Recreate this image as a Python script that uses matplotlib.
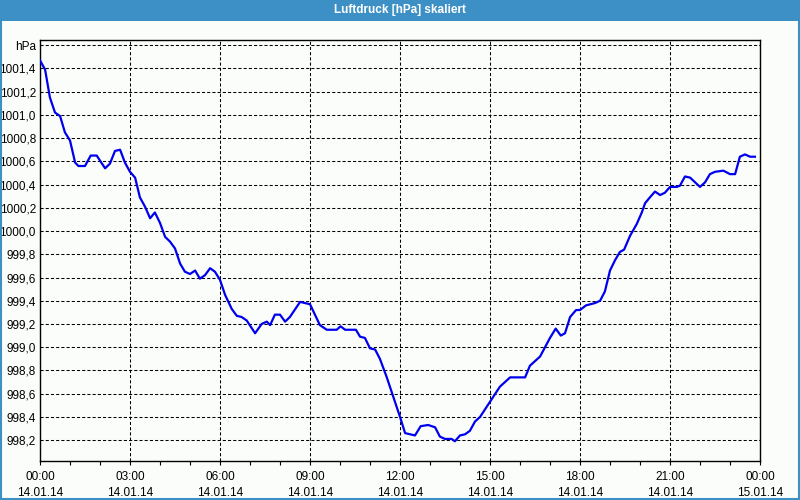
import matplotlib
matplotlib.use("Agg")
from matplotlib import pyplot as plt
from matplotlib.patches import Rectangle
import numpy as np

# pressure readings, hours since 14.01.14 00:00
hours = [0.0, 0.17, 0.33, 0.5, 0.67, 0.83, 1.0, 1.17, 1.28, 1.5, 1.69, 1.89,
         2.17, 2.33, 2.5, 2.67, 2.83, 3.0, 3.17, 3.33, 3.5, 3.67, 3.83, 4.0,
         4.17, 4.33, 4.5, 4.67, 4.83, 5.0, 5.17, 5.33, 5.5, 5.67, 5.83, 6.0,
         6.17, 6.39, 6.56, 6.72, 6.89, 7.17, 7.39, 7.56, 7.67, 7.83, 8.0, 8.17,
         8.33, 8.67, 8.83, 9.0, 9.33, 9.56, 9.89, 10.02, 10.17, 10.53, 10.67, 10.83,
         11.0, 11.17, 11.33, 11.56, 11.78, 12.0, 12.17, 12.5, 12.69, 12.94, 13.17, 13.33,
         13.5, 13.72, 13.83, 14.0, 14.17, 14.33, 14.5, 14.67, 15.0, 15.33, 15.67, 15.83,
         16.17, 16.33, 16.67, 17.0, 17.19, 17.36, 17.5, 17.67, 17.87, 18.0, 18.2, 18.5,
         18.67, 18.83, 19.0, 19.17, 19.33, 19.47, 19.67, 19.89, 20.06, 20.17, 20.33, 20.5,
         20.67, 20.83, 21.0, 21.22, 21.33, 21.5, 21.67, 22.0, 22.17, 22.33, 22.5, 22.78,
         23.0, 23.17, 23.33, 23.5, 23.67, 23.83]
pressure = [1001.47, 1001.39, 1001.15, 1001.02, 1000.99, 1000.85, 1000.78, 1000.59, 1000.56, 1000.56, 1000.65, 1000.65,
            1000.54, 1000.58, 1000.69, 1000.70, 1000.59, 1000.51, 1000.46, 1000.29, 1000.21, 1000.11, 1000.16, 1000.07,
            999.95, 999.91, 999.85, 999.72, 999.65, 999.63, 999.66, 999.59, 999.62, 999.68, 999.65, 999.58,
            999.45, 999.33, 999.27, 999.26, 999.23, 999.12, 999.20, 999.22, 999.19, 999.28, 999.28, 999.22,
            999.26, 999.39, 999.38, 999.37, 999.19, 999.15, 999.15, 999.18, 999.15, 999.15, 999.09, 999.08,
            998.99, 998.98, 998.90, 998.74, 998.57, 998.40, 998.26, 998.24, 998.32, 998.33, 998.31, 998.23,
            998.21, 998.21, 998.19, 998.24, 998.25, 998.28, 998.36, 998.40, 998.53, 998.66, 998.74, 998.74,
            998.74, 998.84, 998.92, 999.08, 999.16, 999.10, 999.12, 999.26, 999.32, 999.32, 999.36, 999.38,
            999.40, 999.48, 999.66, 999.75, 999.82, 999.84, 999.96, 1000.06, 1000.16, 1000.24, 1000.29, 1000.34,
            1000.31, 1000.33, 1000.38, 1000.38, 1000.39, 1000.47, 1000.46, 1000.38, 1000.42, 1000.49, 1000.51, 1000.52,
            1000.49, 1000.49, 1000.64, 1000.66, 1000.64, 1000.64]

x_ticks = [0, 3, 6, 9, 12, 15, 18, 21, 24]
x_labels = ["00:00\n14.01.14", "03:00\n14.01.14", "06:00\n14.01.14", "09:00\n14.01.14",
            "12:00\n14.01.14", "15:00\n14.01.14", "18:00\n14.01.14", "21:00\n14.01.14",
            "00:00\n15.01.14"]
y_ticks = [998.2, 998.4, 998.6, 998.8, 999.0, 999.2, 999.4, 999.6, 999.8, 1000.0,
           1000.2, 1000.4, 1000.6, 1000.8, 1001.0, 1001.2, 1001.4, 1001.6]
title = "Luftdruck [hPa] skaliert"

plt.rcParams['font.family'] = ['Liberation Sans', 'DejaVu Sans']
bg = '#fbfdfb'
frame_blue = '#3d90c6'

fig = plt.figure(figsize=(8, 5), dpi=100, facecolor=bg)
ax = fig.add_axes([0.05, 0.078, 0.90, 0.842])
ax.set_facecolor(bg)

ax.plot(hours, pressure, color='#0000ee', linewidth=1.6, zorder=3)

ax.set_xlim(0, 24)
ax.set_ylim(998.02, 1001.645)

ax.set_xticks(x_ticks)
ax.set_xticklabels(x_labels, fontsize=8.5, linespacing=1.5)
ax.set_xticks(range(0, 25), minor=True)
ax.tick_params(axis='x', which='both', direction='out', length=3, width=0.8, pad=4)

ylabels = [("%.1f" % v).replace('.', ',') for v in y_ticks]
ylabels[-1] = "hPa"
ax.set_yticks(y_ticks)
ax.set_yticklabels(ylabels, fontsize=8.5)
ax.tick_params(axis='y', length=0, pad=3)

ax.grid(True, which='major', color='black', linestyle=(0, (3, 2)), linewidth=0.75)
for s in ax.spines.values():
    s.set_linewidth(1.0)
    s.set_color('black')

# title bar
fig.patches.append(Rectangle((0, 0.959), 1, 0.041, transform=fig.transFigure,
                             facecolor=frame_blue, edgecolor='none', zorder=0))
fig.text(0.5, 0.98, title, color='white', fontsize=8.5, fontweight='bold',
         ha='center', va='center')
# thin window border
fig.patches.append(Rectangle((0.001, 0.002), 0.998, 0.996, transform=fig.transFigure,
                             facecolor='none', edgecolor=frame_blue, linewidth=1.5, zorder=1))

fig.savefig("out.png", dpi=100, facecolor=bg)
